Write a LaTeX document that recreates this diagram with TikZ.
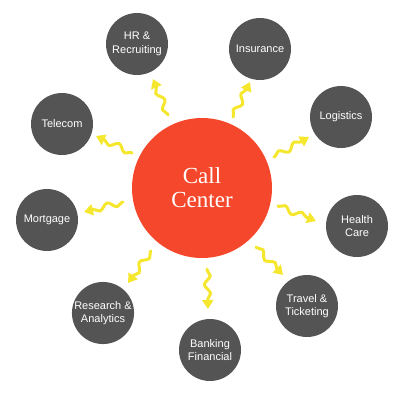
\documentclass[tikz,border=0pt]{standalone}
\usepackage{fontspec}
\setmainfont{Liberation Sans}
\newfontfamily\ccserif{Liberation Serif}
\usetikzlibrary{arrows.meta,decorations.pathmorphing}
\definecolor{satgray}{HTML}{545454}
\definecolor{ccred}{HTML}{F4472B}
\definecolor{wyel}{HTML}{F5E62E}
\tikzset{
  sat/.style={circle, fill=satgray, minimum size=62pt, inner sep=0pt, text=white,
    align=center, font=\fontsize{11}{13.5}\selectfont},
  hub/.style={circle, fill=ccred, minimum size=140pt, inner sep=0pt, text=white,
    align=center, font=\ccserif\fontsize{23}{24}\selectfont},
  wave/.style={draw=wyel, line width=3pt, line cap=round,
    -{Triangle[width=11pt,length=9pt]},
    decorate, decoration={snake, amplitude=3pt, segment length=18pt, post length=8pt, pre length=1pt}},
}
\begin{document}
\begin{tikzpicture}[x=1pt,y=-1pt]
\useasboundingbox (0,0) rectangle (402,392);
\node[hub] (cc) at (202,188) {Call\\Center};
\node[sat] (hr) at (137,44) {HR \&\\Recruiting};
\node[sat] (ins) at (260,49) {Insurance};
\node[sat] (log) at (341,117) {Logistics};
\node[sat] (tel) at (62,124) {Telecom};
\node[sat] (mor) at (47,220) {Mortgage};
\node[sat] (hea) at (357,226) {Health\\Care};
\node[sat] (res) at (103,313) {Research \&\\Analytics};
\node[sat] (ban) at (210,350) {Banking\\Financial};
\node[sat] (tra) at (307,306) {Travel \&\\Ticketing};
% connector ends
\coordinate (hrA) at (168,115);  \coordinate (hrB) at (153,79);
\coordinate (insA) at (233,117); \coordinate (insB) at (250,82);
\coordinate (logA) at (274,157); \coordinate (logB) at (309,137);
\coordinate (heaA) at (278,206); \coordinate (heaB) at (316,221);
\coordinate (traA) at (256,247); \coordinate (traB) at (283,275);
\coordinate (banA) at (207,269); \coordinate (banB) at (208,309);
\coordinate (resA) at (151,251); \coordinate (resB) at (128,283);
\coordinate (morA) at (123,202); \coordinate (morB) at (84,212);
\coordinate (telA) at (132,153); \coordinate (telB) at (96,136);
\draw[wave] (hrA) -- (hrB);
\draw[wave] (insA) -- (insB);
\draw[wave] (logA) -- (logB);
\draw[wave] (heaA) -- (heaB);
\draw[wave] (traA) -- (traB);
\draw[wave] (banA) -- (banB);
\draw[wave] (resA) -- (resB);
\draw[wave] (morA) -- (morB);
\draw[wave] (telA) -- (telB);
\end{tikzpicture}
\end{document}
